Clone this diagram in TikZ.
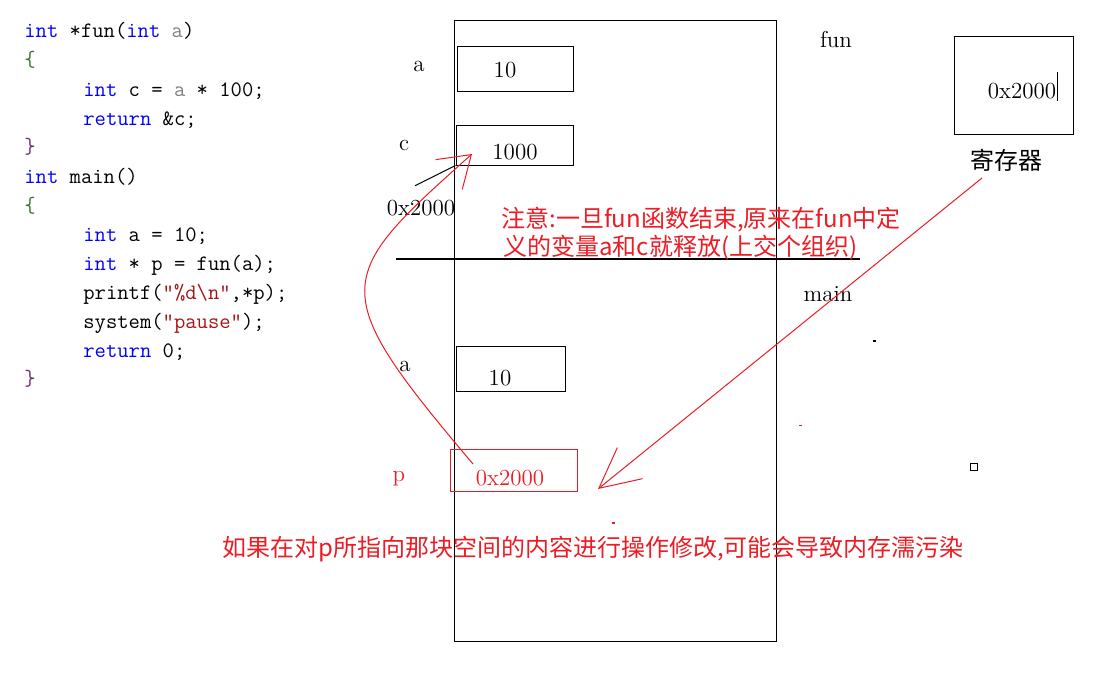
\documentclass[tikz,border=0pt]{standalone}
\usepackage{fontspec}
\newfontfamily\cjk{Noto Sans CJK SC}
\usetikzlibrary{arrows.meta}
\definecolor{notered}{RGB}{237,28,36}
\definecolor{kwblue}{RGB}{0,0,255}
\definecolor{strred}{RGB}{163,21,21}
\definecolor{argrey}{RGB}{128,128,128}
\definecolor{brgreen}{RGB}{60,110,40}
\definecolor{brpurple}{RGB}{110,40,110}
\newcommand{\kw}[1]{\textcolor{kwblue}{#1}}
\newcommand{\strlit}[1]{\textcolor{strred}{#1}}
\newcommand{\argname}[1]{\textcolor{argrey}{#1}}
\begin{document}
\begin{tikzpicture}[
                        x=0.5pt,y=-0.5pt,
                        code/.style={anchor=base west,inner sep=0pt,font=\ttfamily\fontsize{11}{13}\selectfont},
                        cell/.style={draw,line width=0.5pt,inner sep=0pt},
                        val/.style={inner sep=0pt,font=\fontsize{11.5}{13}\selectfont},
                        note/.style={inner sep=0pt,anchor=west,text=notered,font=\cjk\fontsize{12}{14}\selectfont},
                        redline/.style={notered,line width=0.5pt},
                        >={Straight Barb[length=15pt,width=20pt]}
                    ]
                    \useasboundingbox (0,0) rectangle (1120,680);
                    % Code
                    \node [code] (l1) at (24,38) {\kw{int} *fun(\kw{int} \argname{a})};
                    \node [code] (l2) at (24,66) {\textcolor{brgreen}{\{}};
                    \node [code] (l3) at (83,96) {\kw{int} c = \argname{a} * 100;};
                    \node [code] (l4) at (83,125) {\kw{return} \&c;};
                    \node [code] (l5) at (24,153) {\textcolor{brpurple}{\}}};
                    \node [code] (l6) at (24,183) {\kw{int} main()};
                    \node [code] (l7) at (24,212) {\textcolor{brgreen}{\{}};
                    \node [code] (l8) at (83,241) {\kw{int} a = 10;};
                    \node [code] (l9) at (83,270) {\kw{int} * p = fun(a);};
                    \node [code] (l10) at (83,299) {printf(\strlit{"\%d\textbackslash n"},*p);};
                    \node [code] (l11) at (83,328) {system(\strlit{"pause"});};
                    \node [code] (l12) at (83,357) {\kw{return} 0;};
                    \node [code] (l13) at (24,385) {\textcolor{brpurple}{\}}};

                    % Stack
                    \node [cell,minimum width=161pt,minimum height=310.5pt] (stack) at (615,330.5) {};
                    \draw [line width=1pt] (396,259) -- (860,259);
                    \node [val] (funname) at (836,40) {fun};
                    \node [val] (mainname) at (828,294) {main};

                    % fun frame
                    \node [cell,minimum width=58pt,minimum height=22.5pt] (afun) at (515,68.5) {};
                    \node [val] (afunval) at (505,70) {10};
                    \node [val] (afunname) at (419,66) {a};
                    \node [cell,minimum width=58.5pt,minimum height=20pt] (cfun) at (514.5,145) {};
                    \node [val] (cfunval) at (515,152) {1000};
                    \node [val] (cfunname) at (404,145) {c};
                    \node [val] (addr) at (421,208) {0x2000};
                    \draw [line width=0.5pt] ([xshift=-3pt,yshift=7pt]addr.north) -- (cfun.south west);

                    % main frame
                    \node [cell,minimum width=54.5pt,minimum height=22.5pt] (amain) at (510.5,368.5) {};
                    \node [val] (amainval) at (500,378) {10};
                    \node [val] (amainname) at (405,366) {a};
                    \node [cell,draw=notered,minimum width=63.5pt,minimum height=21pt] (pmain) at (513.5,470) {};
                    \node [val,text=notered] (pmainval) at (510,478) {0x2000};
                    \node [val,text=notered] (pmainname) at (399,479) {p};

                    % Register
                    \node [cell,minimum width=59.5pt,minimum height=49pt] (reg) at (1013.5,85) {};
                    \node [val] (regval) at (1022,91) {0x2000};
                    \draw [line width=0.5pt] (1057,72) -- (1057,101);
                    \node [note,anchor=center,text=black] (regname) at (1006,160) {寄存器};

                    % Notes
                    \node [note] (note1) at (501,220) {注意:一旦fun函数结束,原来在fun中定};
                    \node [note] (note2) at (503,248) {义的变量a和c就释放(上交个组织)};
                    \node [note] (note3) at (222,549) {如果在对p所指向那块空间的内容进行操作修改,可能会导致内存濡污染};

                    % Connections
                    \coordinate (pstart) at (473,464);
                    \coordinate (ctip) at (472,154);
                    \coordinate (regstart) at (982,178);
                    \coordinate (ptip) at (598,489);
                    \draw [redline,->] (pstart) .. controls (325,289) and (333,278) .. (ctip);
                    \draw [redline,->,>={Straight Barb[length=20pt,width=20pt]}] (regstart) -- (ptip);

                    % Stray marks
                    \fill (873,340) rectangle (876,342);
                    \draw [line width=0.5pt] (970.5,463.5) rectangle (977,470);
                    \fill [notered] (799,425) rectangle (802,426);
                    \fill [notered] (612,522) rectangle (615,524);
                \end{tikzpicture}
\end{document}
